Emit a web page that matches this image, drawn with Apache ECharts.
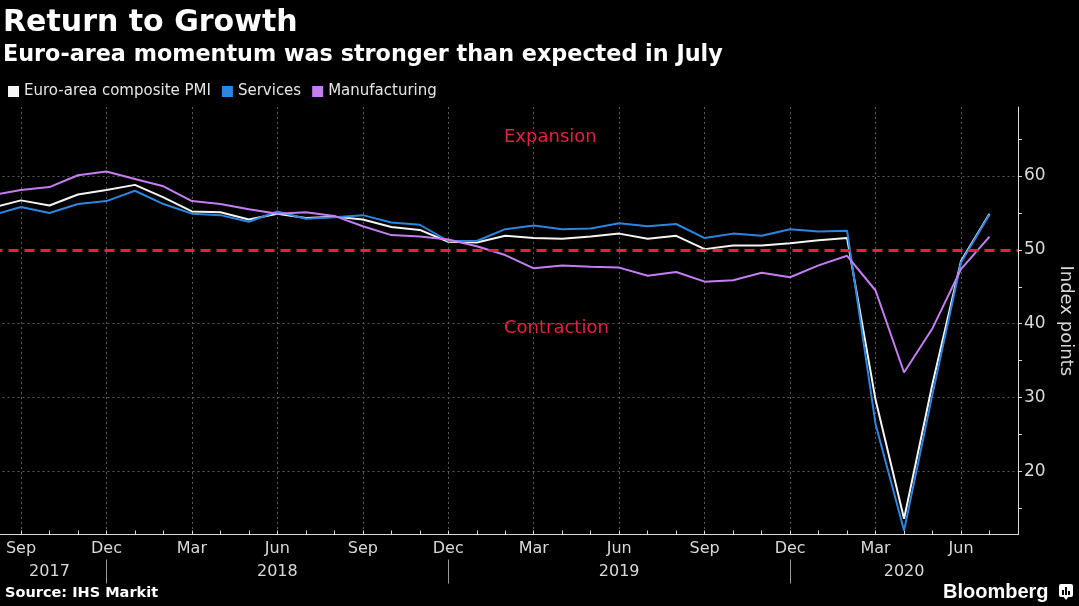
<!DOCTYPE html>
<html>
<head>
<meta charset="utf-8">
<script src="https://cdn.jsdelivr.net/npm/echarts@6/dist/echarts.min.js"></script>
<style>
html,body{margin:0;padding:0;background:#000;}
#chart{width:1079px;height:606px;}
</style>
</head>
<body>
<div id="chart"></div>
<script>
// Months from Aug 2017 to Aug 2020 (Aug 2017 is clipped at the left edge, Aug 2020 is the empty right end)
const months = ['Aug 2017','Sep 2017','Oct 2017','Nov 2017','Dec 2017',
  'Jan 2018','Feb 2018','Mar 2018','Apr 2018','May 2018','Jun 2018','Jul 2018','Aug 2018','Sep 2018','Oct 2018','Nov 2018','Dec 2018',
  'Jan 2019','Feb 2019','Mar 2019','Apr 2019','May 2019','Jun 2019','Jul 2019','Aug 2019','Sep 2019','Oct 2019','Nov 2019','Dec 2019',
  'Jan 2020','Feb 2020','Mar 2020','Apr 2020','May 2020','Jun 2020','Jul 2020','Aug 2020'];

const composite = [55.7, 56.7, 56.0, 57.5, 58.1, 58.8, 57.1, 55.2, 55.1, 54.1, 54.9, 54.3, 54.5, 54.1, 53.1, 52.7, 51.1,
  51.0, 51.9, 51.6, 51.5, 51.8, 52.2, 51.5, 51.9, 50.1, 50.6, 50.6, 50.9, 51.3, 51.6, 29.7, 13.6, 31.9, 48.5, 54.9, null];
const services = [54.7, 55.8, 55.0, 56.2, 56.6, 58.0, 56.2, 54.9, 54.7, 53.8, 55.2, 54.2, 54.4, 54.7, 53.7, 53.4, 51.2,
  51.2, 52.8, 53.3, 52.8, 52.9, 53.6, 53.2, 53.5, 51.6, 52.2, 51.9, 52.8, 52.5, 52.6, 26.4, 12.0, 30.5, 48.3, 54.8, null];
const manufacturing = [57.4, 58.1, 58.5, 60.1, 60.6, 59.6, 58.6, 56.6, 56.2, 55.5, 54.9, 55.1, 54.6, 53.2, 52.0, 51.8, 51.4,
  50.5, 49.3, 47.5, 47.9, 47.7, 47.6, 46.5, 47.0, 45.7, 45.9, 46.9, 46.3, 47.9, 49.2, 44.5, 33.4, 39.4, 47.4, 51.8, null];

const seriesNames = ['Euro-area composite PMI', 'Services', 'Manufacturing'];
const yLabelValues = [20, 30, 40, 50, 60];
const yGridValues = [20, 30, 40, 60];
const yOtherTicks = [15, 25, 35, 45, 50, 55, 65];
const threshold = 50;
const yearLabelMonths = ['Oct 2017', 'Jun 2018', 'Jun 2019', 'Apr 2020'];
const yearBoundaryMonths = ['Dec 2017', 'Dec 2018', 'Dec 2019'];

const RED = '#e6213f';
const FONT = 'DejaVu Sans';
const AX = '#d9d9d9';

const chart = echarts.init(document.getElementById('chart'), null, {renderer: 'canvas'});

const isQuarterLabel = (i) => i % 3 === 1;

chart.setOption({
  backgroundColor: '#000',
  animation: false,
  title: [
    {text: 'Return to Growth', left: 3, top: 8, padding: 0,
      textStyle: {color: '#fff', fontFamily: FONT, fontWeight: 'bold', fontSize: 30}},
    {text: 'Euro-area momentum was stronger than expected in July', left: 3, top: 44, padding: 0,
      textStyle: {color: '#fff', fontFamily: FONT, fontWeight: 'bold', fontSize: 22.3}}
  ],
  legend: {
    left: 8, top: 84, padding: 0,
    icon: 'rect', itemWidth: 11, itemHeight: 11, itemGap: 11,
    textStyle: {color: '#e6e6e6', fontFamily: FONT, fontSize: 15},
    data: seriesNames
  },
  grid: {left: -7.5, right: 61, top: 107, bottom: 71.5, containLabel: false, outerBoundsMode: 'none'},
  xAxis: [
    {
      type: 'category', data: months, boundaryGap: false, position: 'bottom',
      axisLine: {show: true, lineStyle: {color: AX, width: 1}},
      axisTick: {show: true, interval: 0, inside: true, length: 4, lineStyle: {color: AX}},
      axisLabel: {
        color: AX, fontFamily: FONT, fontSize: 16, margin: 6,
        interval: (i) => isQuarterLabel(i),
        formatter: (v) => v.split(' ')[0]
      },
      splitLine: {show: true, interval: (i) => isQuarterLabel(i),
        lineStyle: {color: '#5a5a5a', type: [2, 3], width: 1}}
    },
    {
      type: 'category', data: months, boundaryGap: false, position: 'bottom', offset: 25,
      axisLine: {show: false},
      axisTick: {show: true, inside: false, length: 24,
        interval: (i, v) => yearBoundaryMonths.indexOf(v) >= 0,
        lineStyle: {color: '#9a9a9a'}},
      axisLabel: {
        color: AX, fontFamily: FONT, fontSize: 16, margin: 4,
        interval: (i, v) => yearLabelMonths.indexOf(v) >= 0,
        formatter: (v) => v.split(' ')[1]
      },
      splitLine: {show: false}
    }
  ],
  yAxis: [
    {
      type: 'value', position: 'right', min: 11.47, max: 69.34,
      name: 'Index points', nameLocation: 'middle', nameRotate: -90, nameGap: 37,
      nameTextStyle: {color: AX, fontFamily: FONT, fontSize: 18},
      axisLine: {show: true, lineStyle: {color: AX, width: 1}},
      axisTick: {show: true, inside: false, length: 4, customValues: yGridValues, lineStyle: {color: AX}},
      axisLabel: {color: AX, fontFamily: FONT, fontSize: 17, margin: 6, customValues: yLabelValues},
      splitLine: {show: true, lineStyle: {color: '#5a5a5a', type: [2, 3], width: 1}}
    },
    {
      type: 'value', position: 'right', min: 11.47, max: 69.34,
      axisLine: {show: false},
      axisTick: {show: true, inside: false, length: 4, customValues: yOtherTicks, lineStyle: {color: AX}},
      axisLabel: {show: false},
      splitLine: {show: false}
    }
  ],
  series: [
    {
      name: seriesNames[0], type: 'line', data: composite, symbol: 'none', clip: true,
      color: '#f4f4f4', lineStyle: {width: 2},
      markLine: {
        silent: true, symbol: 'none', label: {show: false},
        lineStyle: {color: RED, type: [10, 6], width: 3},
        data: [{yAxis: threshold}]
      }
    },
    {name: seriesNames[1], type: 'line', data: services, symbol: 'none', clip: true,
      color: '#2c86e0', lineStyle: {width: 2}},
    {name: seriesNames[2], type: 'line', data: manufacturing, symbol: 'none', clip: true,
      color: '#c47ef2', lineStyle: {width: 2}}
  ],
  graphic: [
    {type: 'text', left: 504, top: 128, style: {text: 'Expansion', fill: RED, font: '18px "DejaVu Sans"'}},
    {type: 'text', left: 504, top: 319, style: {text: 'Contraction', fill: RED, font: '18px "DejaVu Sans"'}},
    {type: 'text', left: 5, top: 586, style: {text: 'Source: IHS Markit', fill: '#fff', font: 'bold 14.5px "DejaVu Sans"'}},
    {type: 'text', left: 943, top: 582, style: {text: 'Bloomberg', fill: '#fff', font: 'bold 20px "Liberation Sans"'}},
    {type: 'group', left: 1059, top: 584, children: [
      {type: 'rect', shape: {x: 0, y: 0, width: 14, height: 13, r: 2}, style: {fill: '#fff'}},
      {type: 'polygon', shape: {points: [[4, 12], [10, 12], [7, 16]]}, style: {fill: '#fff'}},
      {type: 'rect', shape: {x: 3, y: 6, width: 2, height: 5}, style: {fill: '#000'}},
      {type: 'rect', shape: {x: 6, y: 3, width: 2, height: 8}, style: {fill: '#000'}},
      {type: 'rect', shape: {x: 9, y: 7, width: 2, height: 4}, style: {fill: '#000'}}
    ]}
  ]
});
</script>
</body>
</html>
